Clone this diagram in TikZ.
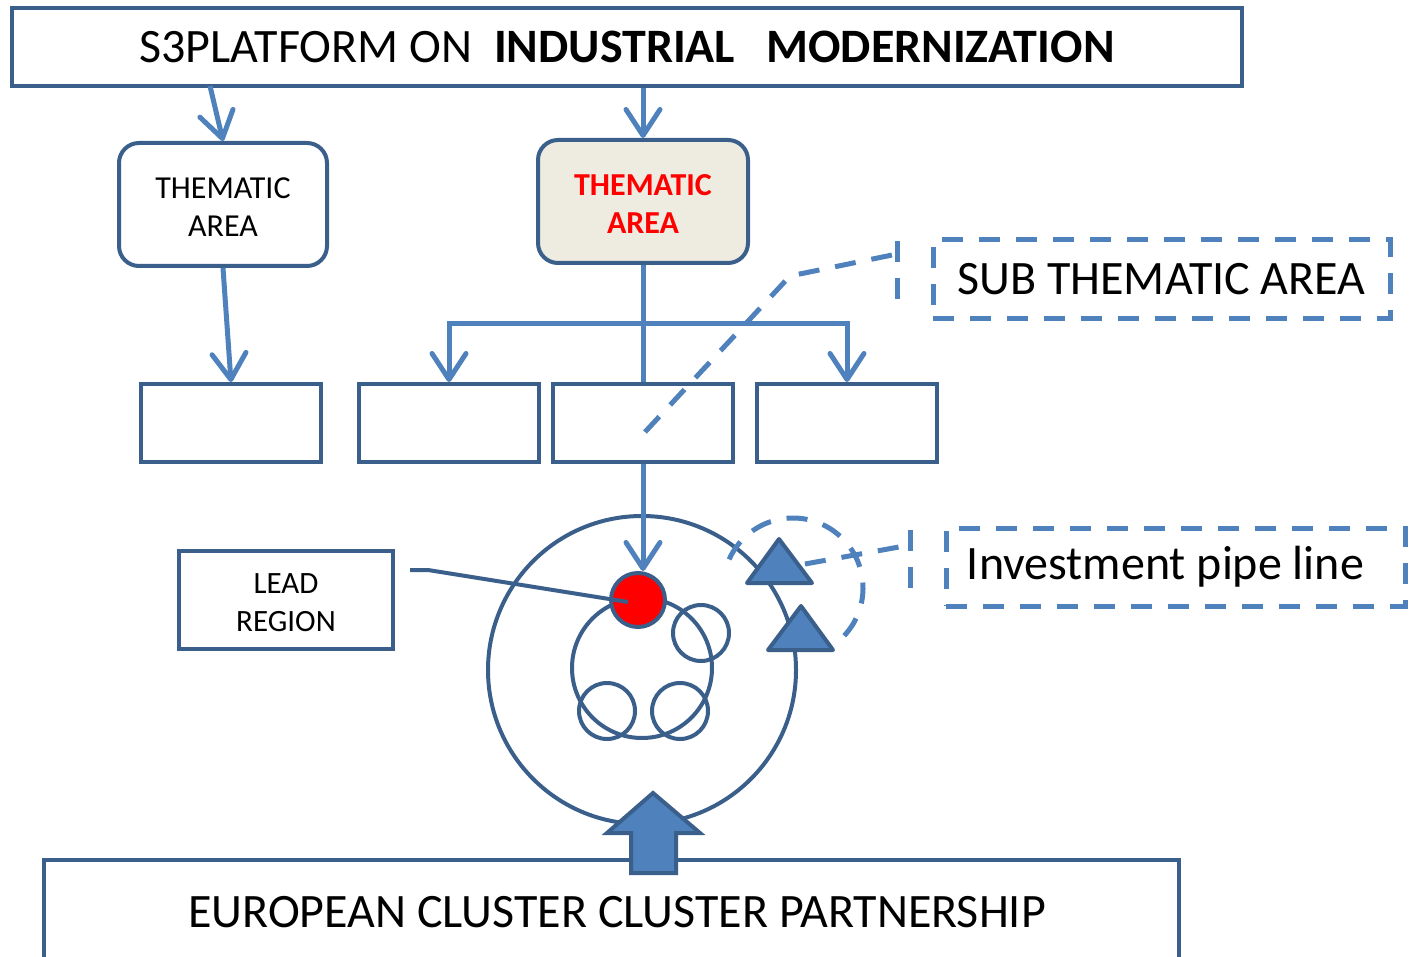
\documentclass[tikz,border=0pt]{standalone}
\usepackage{fontspec}
\setmainfont{Carlito}
\usetikzlibrary{arrows.meta,calc}
\definecolor{dkb}{HTML}{3A5F8B}
\definecolor{ltb}{HTML}{4F81BD}
\definecolor{beige}{HTML}{EEECE1}
\newcommand{\twoline}[3]{\raisebox{#1}[\height][\depth]{\begin{tabular}{@{}c@{}}#2\\#3\end{tabular}}}
\begin{document}
\begin{tikzpicture}[x=1pt,y=-1pt,
  box/.style={draw=dkb, line width=4pt, fill=white, inner sep=0pt, align=center},
  rbox/.style={box, rounded corners=20pt},
  dbox/.style={draw=ltb, line width=5pt, dash pattern=on 21pt off 16pt, inner sep=0pt, align=center},
  arr/.style={draw=ltb, line width=5pt, -{Straight Barb[length=26pt,width=34pt,round]}},
  trunk/.style={draw=ltb, line width=5pt},
  dsh/.style={draw=ltb, line width=5pt, dash pattern=on 21pt off 16pt},
  ring/.style={circle, draw=dkb, line width=4pt, inner sep=0pt},
  tri/.style={draw=dkb, line width=4pt, fill=ltb, line join=round},
  bigf/.style={font=\fontsize{48}{56}\selectfont},
  medf/.style={font=\fontsize{32}{38}\selectfont}
]
\useasboundingbox (0,0) rectangle (1412,957);
\clip (0,0) rectangle (1412,957);

% top box
\node[box, bigf, minimum width=1230pt, minimum height=78pt] (top) at (627,47)
  {S3PLATFORM ON\hspace{0.45em}\textbf{INDUSTRIAL}\hspace{0.65em}\textbf{MODERNIZATION}};

% thematic areas
\node[rbox, medf, minimum width=208pt, minimum height=123pt] (ta1) at (223,204.5) {\twoline{-5pt}{THEMATIC}{AREA}};
\node[rbox, fill=beige, text=red, font=\fontsize{32}{38}\selectfont\bfseries,
      minimum width=210pt, minimum height=123pt] (ta2) at (643,201.5) {\twoline{-5pt}{THEMATIC}{AREA}};

% sub boxes
\node[box, minimum width=180pt, minimum height=78pt] (b1) at (231,423) {};
\node[box, minimum width=180pt, minimum height=78pt] (b2) at (449,423) {};
\node[box, minimum width=180pt, minimum height=78pt] (b3) at (643,423) {};
\node[box, minimum width=180pt, minimum height=78pt] (b4) at (847,423) {};

% arrows from top
\coordinate (a1s) at (210,86);
\draw[arr] (a1s) -- (ta1.north);
\draw[arr] (top.south -| ta2.north) -- (ta2.north);
\draw[arr] (ta1.south) -- (b1.north);

% tree from central thematic area
\coordinate (br) at (643,323);
\draw[trunk] (ta2.south) -- (b3.north);
\draw[arr] (br) -| (b2.north);
\draw[arr] (br) -| (b4.north);

% bottom box
\node[box, bigf, minimum width=1135pt, minimum height=104pt] (eu) at (611.5,912)
  {\hspace{11pt}EUROPEAN CLUSTER CLUSTER PARTNERSHIP};

% circles
\node[ring, minimum size=308pt] (big) at (642,670) {};
\node[ring, minimum size=140pt] (inner) at (642,668) {};
\node[ring, minimum size=56pt] (s1) at (701,633) {};
\node[ring, minimum size=56pt] (s2) at (607,711) {};
\node[ring, minimum size=56pt] (s3) at (680,711) {};
\node[ring, fill=red, minimum size=54pt] (red) at (638,600) {};

% arrow into red dot
\draw[arr] (b3.south) -- (b3.south |- red.north);

% triangles
\draw[tri] (779,539) -- (812,583) -- (747,583) -- cycle;
\draw[tri] (801,606) -- (833,650) -- (768,650) -- cycle;

% block arrow
\draw[tri, line join=miter] (653,793) -- (700,833) -- (676,833) -- (676,873) -- (631,873) -- (631,833) -- (607,833) -- cycle;

% lead region
\node[box, font=\fontsize{31}{38}\selectfont, minimum width=214pt, minimum height=98pt] (lead) at (286,600) {\twoline{-5pt}{LEAD}{REGION}};
\coordinate (l1) at (410,570);
\coordinate (l2) at (428,570);
\draw[draw=dkb, line width=4pt] (l1) -- (l2) -- ($(red.center)+(-10,2)$);

% sub thematic callout
\node[dbox, font=\fontsize{48}{54}\selectfont, minimum width=457pt, minimum height=78pt] (sub) at (1161.5,279) {SUB THEMATIC AREA};
\coordinate (sc1) at (645,432);
\coordinate (sc2) at (790,276);
\coordinate (sc3) at (897,254);
\coordinate (sb1) at (897,241);
\coordinate (sb2) at (897,308);
\draw[dsh] (sc1) -- (sc2) -- (sc3);
\draw[dsh] (sb1) -- (sb2);

% investment callout
\node[dbox, font=\fontsize{48}{54}\selectfont, minimum width=459pt, minimum height=78pt] (inv) at (1175.5,567) {Investment pipe line\hspace{20pt}};
\coordinate (ic1) at (805,564);
\coordinate (ic2) at (910,545);
\coordinate (ib1) at (910,530);
\coordinate (ib2) at (910,593);
\draw[dsh] (ic1) -- (ic2);
\draw[dsh] (ib1) -- (ib2);
\coordinate (dc) at (793,588);
\draw[dsh] (dc) ++(-43:70pt) arc[start angle=-43, end angle=167.5, radius=70pt];
\end{tikzpicture}
\end{document}
